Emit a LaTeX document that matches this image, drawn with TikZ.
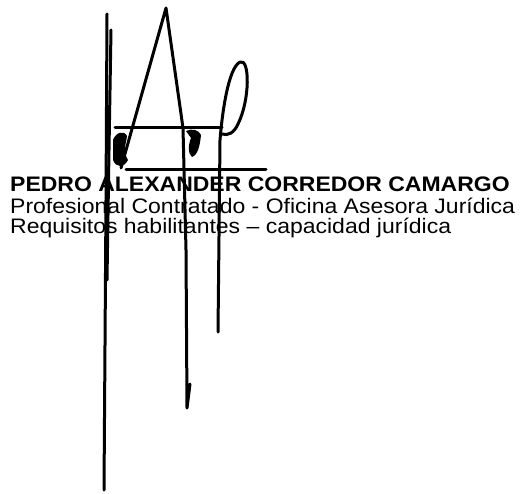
\documentclass[tikz,border=0pt]{standalone}
\usepackage{fontspec}
\setmainfont{Liberation Sans}[FakeStretch=1.095]

\begin{document}
\begin{tikzpicture}[x=1pt,y=-1pt,
    line/.style={anchor=base west, inner sep=0pt, font=\fontsize{21}{21}\selectfont},
    ink/.style={line width=3pt, line cap=round, line join=round}]
  \useasboundingbox (0,0) rectangle (521,494);

  \node[line, font=\fontsize{21}{21}\selectfont\bfseries] (name) at (10,192) {PEDRO ALEXANDER CORREDOR CAMARGO};
  \node[line] (cargo) at (10,213) {Profesional Contratado - Oficina Asesora Jurídica};
  \node[line] (req) at (10,233) {Requisitos habilitantes – capacidad jurídica};

  % firma
  \draw[ink] (107,14) -- (106,200) -- (104,490);
  \draw[ink] (111,30) -- (109,150) -- (107,280);
  \fill (113,140) .. controls (116,132) and (124,130) .. (127,136)
    .. controls (126,145) and (122,150) .. (128,160)
    .. controls (124,168) and (116,168) .. (113,160) -- cycle;
  \draw[ink] (121,168) -- (166,8) -- (183,128) -- (186,250) -- (187,408)
    -- (190,384);
  \fill (186,131) .. controls (192,128) and (199,130) .. (201,135)
    .. controls (200,145) and (198,155) .. (192,157)
    .. controls (188,154) and (188,145) .. (191,138) -- cycle;
  \draw[ink] (218,332) -- (220,140) .. controls (222,115) and (228,68) .. (240,62)
    .. controls (250,58) and (250,100) .. (238,124)
    .. controls (234,133) and (228,136) .. (222,134);
  \draw[ink] (115,128) -- (222,128);
  \draw[ink] (126,170) -- (266,170);
\end{tikzpicture}
\end{document}
